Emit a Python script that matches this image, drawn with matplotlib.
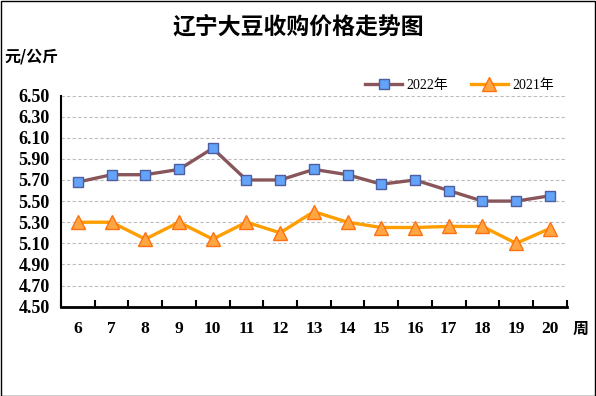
import matplotlib
matplotlib.use("Agg")
import matplotlib.pyplot as plt
from matplotlib.patches import Rectangle
from matplotlib.ticker import MultipleLocator, FixedLocator

weeks = [6, 7, 8, 9, 10, 11, 12, 13, 14, 15, 16, 17, 18, 19, 20]
price_2022 = [5.68, 5.75, 5.75, 5.80, 6.00, 5.70, 5.70, 5.80, 5.75, 5.66, 5.70, 5.60, 5.50, 5.50, 5.55]
price_2021 = [5.30, 5.30, 5.14, 5.30, 5.14, 5.30, 5.20, 5.40, 5.30, 5.25, 5.25, 5.26, 5.26, 5.10, 5.24]
y_ticks = [4.50, 4.70, 4.90, 5.10, 5.30, 5.50, 5.70, 5.90, 6.10, 6.30, 6.50]

num_font = ["Liberation Serif", "Noto Sans CJK SC", "DejaVu Sans"]
cjk_font = ["Noto Sans CJK SC", "DejaVu Sans"]

fig = plt.figure(figsize=(5.96, 3.96), dpi=100)
fig.patch.set_facecolor("white")
ax = fig.add_axes([61 / 596, 1 - 306.7 / 396, (566.7 - 61) / 596, (306.7 - 95.5) / 396])

x = list(range(len(weeks)))

ax.plot(x, price_2022, color="#88565A", linewidth=2.4, marker="s", markersize=6.5,
        markerfacecolor="#63A4FA", markeredgecolor="#4E5E9E", markeredgewidth=1.0,
        label="2022年", zorder=3)
ax.plot(x, price_2021, color="#FF9E00", linewidth=2.4, marker="^", markersize=10,
        markerfacecolor="#FFA643", markeredgecolor="#FF7010", markeredgewidth=1.0,
        label="2021年", zorder=3)

ax.set_xlim(-0.5, len(weeks) - 0.5)
ax.set_ylim(4.5, 6.5)
ax.yaxis.set_major_locator(FixedLocator(y_ticks))
ax.set_yticklabels([f"{v:.2f}" for v in y_ticks], fontfamily=num_font, fontsize=13, fontweight="bold")
ax.set_xticks(x)
ax.set_xticklabels([str(w) for w in weeks], fontfamily=num_font, fontsize=12.5, fontweight="bold")
ax.xaxis.set_minor_locator(MultipleLocator(1, offset=0.5))
ax.tick_params(axis="x", which="major", length=0, pad=10)
ax.tick_params(axis="x", which="minor", direction="in", length=5, width=1.5, color="black")
ax.tick_params(axis="y", length=0, pad=8)

ax.yaxis.grid(True, linestyle=(0, (3, 2)), color="#BDBDBD", linewidth=0.8)
ax.set_axisbelow(True)
for side in ["top", "right"]:
    ax.spines[side].set_visible(False)
ax.spines["left"].set_linewidth(1.5)
ax.spines["bottom"].set_linewidth(2)

leg = fig.legend(loc="center right", bbox_to_anchor=(554 / 596, 1 - 85.5 / 396), ncol=2, frameon=False,
                 prop={"family": num_font, "size": 10}, handlelength=2.7, columnspacing=1.6,
                 handletextpad=0.3, borderaxespad=0, borderpad=0)

fig.text(298 / 596, 1 - 27 / 396, "辽宁大豆收购价格走势图", ha="center", va="center",
         fontfamily=cjk_font, fontsize=16.5, fontweight="bold")
fig.text(4 / 596, 1 - 57 / 396, "元/公斤", ha="left", va="center",
         fontfamily=cjk_font, fontsize=11.5, fontweight="bold")
fig.text(573 / 596, 1 - 329 / 396, "周", ha="left", va="center",
         fontfamily=cjk_font, fontsize=11.5, fontweight="bold")

fig.patches.append(Rectangle((0.5 / 596, 0.5 / 396), 1 - 1.5 / 596, 1 - 1.5 / 396,
                             transform=fig.transFigure, fill=False, edgecolor="black", linewidth=1))

fig.savefig("out.png", dpi=100)
